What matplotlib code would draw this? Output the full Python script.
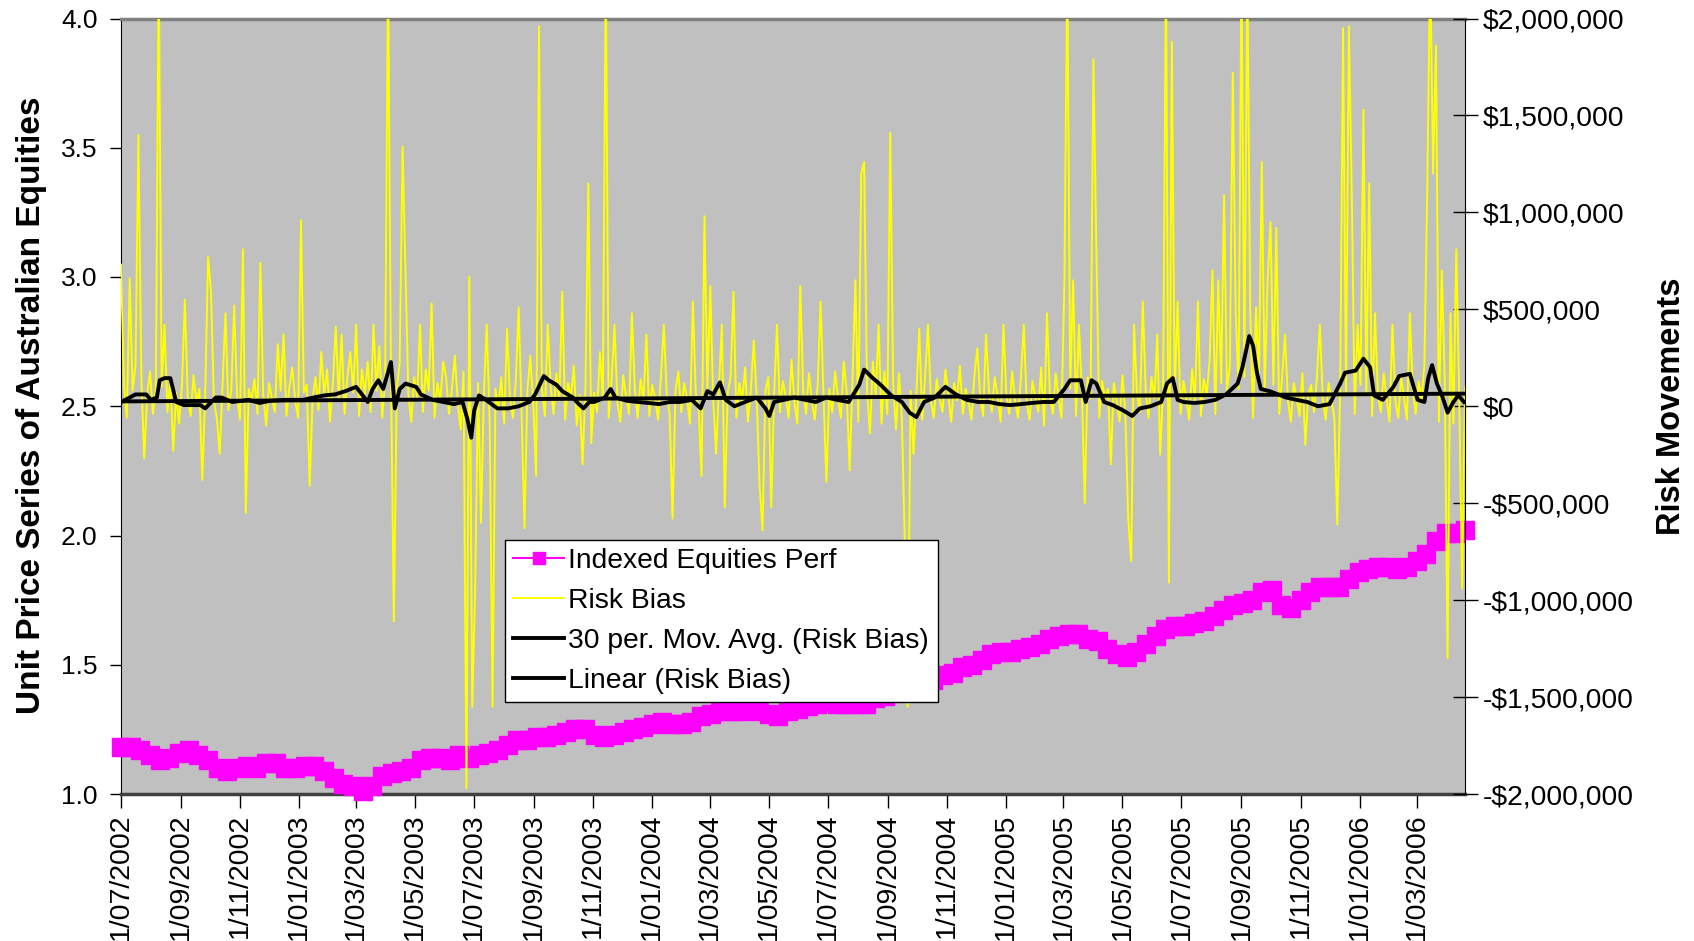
import matplotlib
matplotlib.use('Agg')
import matplotlib.pyplot as plt
import matplotlib.dates as mdates
from matplotlib.lines import Line2D
from matplotlib.ticker import FuncFormatter, MultipleLocator
import numpy as np
import pandas as pd

plt.rcParams['font.family'] = ['Liberation Sans', 'DejaVu Sans']

start = pd.Timestamp('2002-07-01')
end = pd.Timestamp('2006-04-20')

# indexed unit price, one reading every ~10 days
equity = [1.18, 1.18, 1.17, 1.15, 1.13, 1.14, 1.16, 1.17, 1.15, 1.13,
          1.10, 1.09, 1.10, 1.11, 1.10, 1.12, 1.12, 1.10, 1.10, 1.11,
          1.11, 1.09, 1.06, 1.04, 1.03, 1.01, 1.03, 1.07, 1.08, 1.09,
          1.10, 1.13, 1.14, 1.14, 1.13, 1.15, 1.14, 1.15, 1.16, 1.17,
          1.19, 1.21, 1.21, 1.22, 1.22, 1.23, 1.24, 1.25, 1.25, 1.23,
          1.22, 1.23, 1.24, 1.25, 1.26, 1.27, 1.28, 1.27, 1.27, 1.28,
          1.30, 1.31, 1.32, 1.32, 1.32, 1.33, 1.32, 1.31, 1.30, 1.32,
          1.33, 1.34, 1.35, 1.36, 1.35, 1.35, 1.35, 1.35, 1.37, 1.38,
          1.40, 1.41, 1.42, 1.43, 1.44, 1.46, 1.47, 1.49, 1.50, 1.52,
          1.54, 1.55, 1.55, 1.56, 1.57, 1.58, 1.60, 1.61, 1.62, 1.62,
          1.60, 1.59, 1.56, 1.54, 1.53, 1.55, 1.58, 1.61, 1.64, 1.65,
          1.65, 1.66, 1.67, 1.69, 1.71, 1.73, 1.74, 1.75, 1.78, 1.79,
          1.73, 1.72, 1.75, 1.78, 1.80, 1.80, 1.80, 1.83, 1.86, 1.87,
          1.88, 1.88, 1.87, 1.88, 1.90, 1.93, 1.98, 2.01, 2.01, 2.02]

# risk bias in $ thousands, one value every 3 days
risk_bias = [
    730, 120, -60, 660, 80, 210, 1400, 150, -270, 60, 180, -40, 90, 2300, 100, 420, -30, 130, -230, 70,
    -90, 110, 550, 40, -50, 160, 20, 90, -380, 60, 770, 590, 30, -60, -245, 120, 480, -20, 80, 520,
    50, -70, 810, -550, 90, 30, 140, -40, 740, 60, -100, 120, 40, -30, 320, 80, 370, -50, 100, 200,
    30, -60, 960, 70, 110, -410, 40, 150, -20, 280, 60, 190, -80, 120, 410, 30, 370, -40, 150, 280,
    70, 420, -50, 190, 60, 230, -30, 420, 80, 310, -60, 140, 2300, 180, -1110, 90, 220, 1340, 700, 60,
    -80, 150, 40, 420, -30, 190, 80, 530, -60, 120, 30, 230, 150, -40, 90, 260, 20, -120, 180, -1970,
    670, -1550, -940, 120, -600, 60, 420, -80, -1550, 90, -20, 150, -90, 400, 40, -60, 130, 510, -30, -630,
    80, 260, 20, -360, 1960, 90, -50, 420, 110, -40, 170, 30, 590, -70, 120, 40, 210, -100, 60, -300,
    90, 1150, -190, 70, -30, 280, 40, 2300, -60, 130, 420, 20, -80, 160, 50, -40, 480, 90, -60, 140,
    30, 370, -50, 110, 40, -70, 150, 420, 60, -40, -580, 80, 180, -30, 120, 40, -90, 540, 70, -20,
    -360, 980, 90, 620, 40, -245, 110, 420, -520, 70, 150, 590, -60, 120, 30, 200, -80, 90, 340, 40,
    -410, -640, 80, 150, -520, 60, 420, -30, 130, 50, -60, 240, 20, -90, 620, 80, -40, 170, 30, -70,
    110, 540, 60, -390, 90, -30, 180, 40, -60, 230, 70, -330, 140, 650, -80, 1200, 1260, 90, -140, 230,
    60, 420, -90, 180, -40, 1410, 110, -120, 170, -60, -690, -1550, 80, -245, 60, 400, -70, 150, 420, 30,
    -60, 140, 40, -30, 190, 60, -80, 120, 30, 210, -40, 90, 20, -70, 160, 300, 40, -50, 370, 80,
    -30, 150, 50, -80, 420, 60, -40, 180, 30, -60, 140, 420, 20, -70, 130, 50, -30, 200, -100, 480,
    60, -40, 170, 40, -60, 650, 2300, 90, 650, -50, 420, 80, -500, 150, 40, 1790, 810, -60, 130, 40,
    90, -300, 120, 30, -80, 160, -40, -580, -800, 420, 60, -30, 540, 80, -60, 150, 40, 370, -250, 90,
    2300, -910, 1880, 60, 540, -40, 130, 40, -70, 190, 30, 540, -50, 140, 60, 230, 700, -40, 650, 120,
    1090, 80, 210, 1720, 480, 90, 2300, 150, 2300, 480, -60, 510, 130, 1260, 70, 650, 950, 110, 920, -40,
    150, 370, 30, -80, 120, 40, -50, 170, -200, 60, 110, -30, 150, 420, 40, -70, 120, 30, -60, -610,
    90, 1950, 60, 1960, 1090, -40, 420, 110, 1530, 70, 1150, -50, 480, 60, -30, 170, 40, -80, 420, 30,
    -60, 150, 40, -70, 480, 90, -40, 130, 30, 210, 1120, 2300, 1200, 1860, -80, 700, 150, -1300, 480, -90,
    810, 60, -940, 100]

# 30 period moving average of the risk bias ($ thousands) against days since start
ma_day = [0, 9, 15, 26, 31, 37, 40, 45, 51, 57, 65, 82, 87, 98, 104, 115, 132, 143, 154, 171,
          188, 199, 210, 221, 232, 243, 249, 255, 260, 266, 271, 279, 283, 288, 294, 305, 310, 322, 333, 344,
          353, 358, 362, 365, 370, 377, 389, 400, 411, 422, 428, 437, 442, 450, 456, 467, 472, 478, 484, 489,
          500, 506, 511, 523, 534, 545, 556, 567, 578, 590, 599, 606, 612, 619, 625, 634, 645, 657, 666, 670,
          675, 685, 696, 707, 718, 729, 740, 752, 763, 768, 777, 785, 796, 807, 815, 822, 830, 841, 852, 863,
          874, 886, 897, 908, 919, 930, 941, 953, 964, 975, 981, 992, 997, 1003, 1008, 1016, 1025, 1036, 1045, 1053,
          1064, 1075, 1081, 1087, 1092, 1098, 1109, 1120, 1131, 1142, 1154, 1159, 1166, 1170, 1174, 1178, 1187, 1204, 1215, 1226,
          1237, 1249, 1260, 1265, 1276, 1284, 1291, 1295, 1304, 1315, 1321, 1332, 1340, 1347, 1351, 1355, 1360, 1366, 1371, 1377,
          1382, 1388]
ma_30 = [22, 45, 61, 61, 33, 45, 134, 145, 145, 22, 6, 6, -11, 45, 45, 22, 33, 17, 28, 33,
         33, 45, 56, 61, 78, 100, 61, 22, 89, 134, 89, 228, -11, 89, 117, 100, 61, 33, 22, 11,
         22, -67, -162, -22, 56, 33, -11, -11, 0, 22, 61, 156, 134, 111, 78, 45, 17, -11, 22, 22,
         45, 89, 45, 28, 22, 17, 11, 22, 22, 33, -11, 78, 61, 123, 33, 0, 22, 45, -11, -50,
         22, 33, 45, 33, 22, 45, 33, 22, 111, 189, 145, 111, 56, 22, -33, -56, 22, 45, 100, 61,
         33, 22, 22, 11, 6, 11, 17, 22, 22, 89, 134, 134, 22, 134, 117, 22, 6, -22, -50, -11,
         0, 22, 117, 145, 33, 22, 17, 22, 33, 61, 117, 201, 362, 312, 173, 89, 78, 45, 33, 22,
         0, 11, 117, 173, 184, 245, 201, 56, 33, 100, 156, 167, 33, 22, 145, 212, 117, 45, -33, 22,
         56, 22]

# linear trend of the risk bias at the first and last day ($ thousands)
trend_ends = [25, 65]

equity_dates = pd.to_datetime(np.linspace(start.value, end.value, len(equity)))
risk_dates = start + pd.to_timedelta(np.arange(len(risk_bias)) * 3, unit='D')
ma_dates = start + pd.to_timedelta(ma_day, unit='D')

fig = plt.figure(figsize=(16.94, 9.41), dpi=100)
ax = fig.add_axes([121 / 1694, 147 / 941, 1344 / 1694, 775.5 / 941])
ax.set_facecolor('#c0c0c0')
ax.plot(equity_dates, equity, color='#ff00ff', lw=1.5, marker='s', ms=13,
        mfc='#ff00ff', mec='#ff00ff', clip_on=False, zorder=3)
ax.set_ylim(1.0, 4.0)
ax.yaxis.set_major_locator(MultipleLocator(0.5))
ax.yaxis.set_major_formatter(FuncFormatter(lambda v, p: f'{v:.1f}'))
ax.set_xlim(start, end)
ax.xaxis.set_major_locator(mdates.MonthLocator(bymonth=[1, 3, 5, 7, 9, 11]))
ax.xaxis.set_major_formatter(FuncFormatter(
    lambda v, p: '{0.day}/{0.month:02d}/{0.year}'.format(mdates.num2date(v))))
ax.tick_params(axis='x', direction='out', length=10, width=1, labelsize=20.5,
               labelrotation=90, pad=4)
ax.tick_params(axis='y', direction='out', length=8, width=1, labelsize=19, pad=9)
ax.spines['top'].set_color('#808080')
ax.spines['top'].set_linewidth(2.5)
ax.spines['bottom'].set_color('#404040')
ax.spines['bottom'].set_linewidth(2.5)
ax.spines['right'].set_visible(False)

ax2 = ax.twinx()
ax2.plot(risk_dates, np.array(risk_bias) * 1000, color='#ffff00', lw=1.4)
ax2.plot(ma_dates, np.array(ma_30) * 1000, color='black', lw=2.8)
ax2.plot([start, end], np.array(trend_ends) * 1000, color='black', lw=2.8)
ax2.set_ylim(-2000000, 2000000)
ax2.yaxis.set_major_locator(MultipleLocator(500000))
ax2.yaxis.set_major_formatter(FuncFormatter(
    lambda v, p: ('-' if v < 0 else '') + '${:,.0f}'.format(abs(v))))
ax2.tick_params(axis='y', direction='inout', length=18, width=1, labelsize=20.3, pad=4)
for side in ['top', 'bottom', 'left']:
    ax2.spines[side].set_visible(False)

handles = [
    Line2D([], [], color='#ff00ff', lw=1.5, marker='s', ms=9),
    Line2D([], [], color='#ffff00', lw=1.4),
    Line2D([], [], color='black', lw=2.8),
    Line2D([], [], color='black', lw=2.8),
]
labels = ['Indexed Equities Perf', 'Risk Bias', '30 per. Mov. Avg. (Risk Bias)',
          'Linear (Risk Bias)']
leg = ax2.legend(handles, labels, loc='lower left', bbox_to_anchor=(0.2857, 0.1186),
                 fontsize=20.3, fancybox=False, framealpha=1, edgecolor='black',
                 borderpad=0.3, labelspacing=0.49, handlelength=1.8,
                 handletextpad=0.15, borderaxespad=0)
leg.get_frame().set_linewidth(1)

fig.text(32 / 1694, 1 - 405 / 941, 'Unit Price Series of Australian Equities',
         rotation=90, ha='center', va='center', fontsize=24, fontweight='bold')
fig.text(1671 / 1694, 1 - 406 / 941, 'Risk Movements',
         rotation=90, ha='center', va='center', fontsize=23.5, fontweight='bold')

fig.savefig('out.png', dpi=100)
